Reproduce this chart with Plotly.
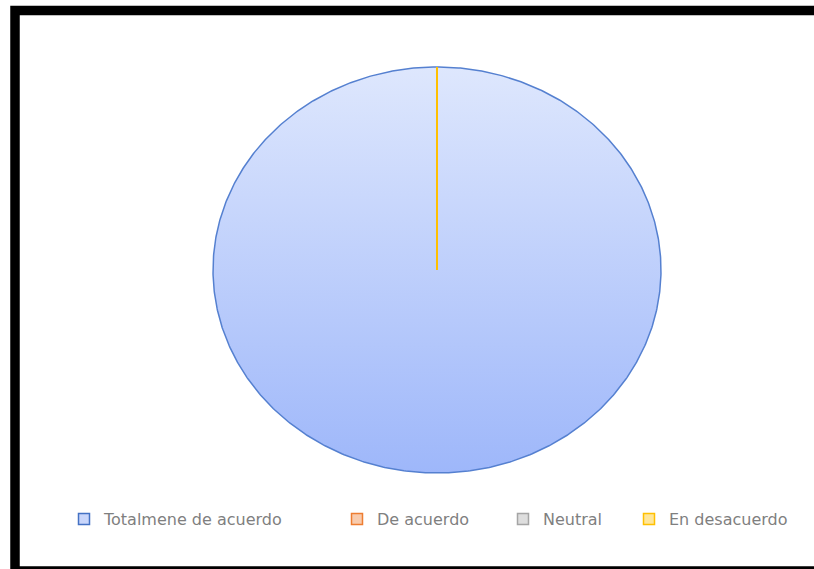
import numpy as np
import plotly.graph_objects as go

# Survey answers (share of respondents, %)
categories = ["Totalmene de acuerdo", "De acuerdo", "Neutral", "En desacuerdo"]
values = [100, 0, 0, 0]

edge_colors = ["#4472C4", "#ED7D31", "#A5A5A5", "#FFC000"]
key_fills = ["#C9D6FB", "#F8CBAD", "#DEDEDE", "#FFE699"]

W, H = 814, 569
cx_px, cy_px, rx_px, ry_px = 437, 270, 224, 203

fig = go.Figure()

# Pie slices built from cumulative shares, starting at 12 o'clock and going clockwise
total = float(sum(values))
cum = np.concatenate([[0.0], np.cumsum(values)]) / total
for i, cat in enumerate(categories):
    a0, a1 = cum[i], cum[i + 1]
    n = max(2, int(720 * (a1 - a0)) + 1)
    t = np.linspace(a0, a1, n)
    ang = np.radians(90 - 360 * t)
    xs = np.concatenate([[0], np.cos(ang), [0]])
    ys = np.concatenate([[0], np.sin(ang), [0]])
    if values[i] > 0:
        fig.add_trace(go.Scatter(
            x=xs, y=ys, mode="lines", fill="toself",
            fillgradient=dict(type="vertical",
                              colorscale=[[0, "rgb(158,183,250)"], [1, "rgb(222,231,253)"]]),
            line=dict(color="#5580D0", width=1.5),
            name=cat, showlegend=False, hoverinfo="name",
        ))
    else:
        fig.add_trace(go.Scatter(
            x=xs, y=ys, mode="lines",
            line=dict(color=edge_colors[i], width=2),
            name=cat, showlegend=False, hoverinfo="name",
        ))

# Legend keys, each in its own legend box along the bottom
legend_ids = ["legend", "legend2", "legend3", "legend4"]
legend_left_px = [64, 337, 503, 629]
for i, cat in enumerate(categories):
    fig.add_trace(go.Scatter(
        x=[None], y=[None], mode="markers", name=cat,
        marker=dict(symbol="square", size=11, color=key_fills[i],
                    line=dict(color=edge_colors[i], width=1.5)),
        legend=legend_ids[i], showlegend=True,
    ))

legend_style = dict(
    y=1 - 519 / H, yanchor="middle", xanchor="left",
    bgcolor="rgba(0,0,0,0)", borderwidth=0,
    font=dict(family="DejaVu Sans", size=16, color="#7F7F7F"),
)
layout_legends = {}
for lid, px in zip(legend_ids, legend_left_px):
    layout_legends[lid] = dict(legend_style, x=px / W)

fig.update_layout(
    width=W, height=H,
    margin=dict(l=0, r=0, t=0, b=0),
    paper_bgcolor="white", plot_bgcolor="white",
    xaxis=dict(range=[-cx_px / rx_px, (W - cx_px) / rx_px], visible=False, fixedrange=True),
    yaxis=dict(range=[-(H - cy_px) / ry_px, cy_px / ry_px], visible=False, fixedrange=True),
    shapes=[dict(type="rect", xref="paper", yref="paper",
                 x0=15 / W, x1=835 / W, y0=1 - 571 / H, y1=1 - 10.5 / H,
                 line=dict(color="black", width=9.5), fillcolor="rgba(0,0,0,0)")],
    **layout_legends,
)

fig.write_html("out.html")
